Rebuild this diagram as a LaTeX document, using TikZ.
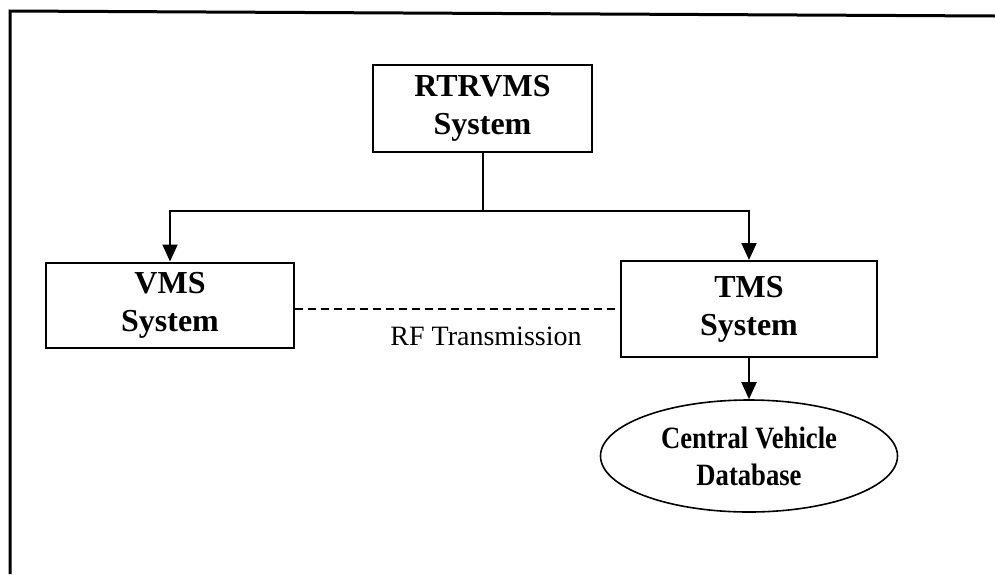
\documentclass[tikz,border=0pt]{standalone}
\usepackage{fontspec}
\setmainfont{Liberation Serif}
\usetikzlibrary{arrows.meta,shapes.geometric}
\begin{document}
\begin{tikzpicture}[x=1pt,y=-1pt,
  box/.style={draw,line width=2pt,inner sep=0pt,align=center,
    font=\bfseries\fontsize{32}{38}\selectfont},
  db/.style={draw,ellipse,line width=1.6pt,inner sep=0pt,align=center,
    font=\bfseries\fontsize{31}{37}\selectfont},
  link/.style={line width=2pt,-{Triangle[length=17pt,width=15pt]}},
  rf/.style={line width=2pt,dash pattern=on 8pt off 5pt},
]
\useasboundingbox (0,0) rectangle (995,574);
% page frame (top and left edges only)
\draw[line width=3pt] (10,574) -- (10,11) -- (995,16);

% system blocks
\node[box,minimum width=219pt,minimum height=87pt] (rtr) at (482.5,108) {RTRVMS\\System};
\node[box,minimum width=248pt,minimum height=85pt] (vms) at (170,305) {VMS\\System};
\node[box,minimum width=256pt,minimum height=96pt] (tms) at (749,309) {TMS\\System};
\node[db,minimum width=297pt,minimum height=112pt] (cvd) at (749,456)
  {\scalebox{0.86}[1]{Central Vehicle}\\\scalebox{0.86}[1]{Database}};

% branching connectors
\coordinate (split) at (rtr.south |- 0,211);
\draw[line width=2pt] (rtr.south) -- (split);
\draw[link] (split) -| (vms.north);
\draw[link] (split) -| (tms.north);
\draw[link] (tms.south) -- (cvd.north);

% radio link
\draw[rf] (vms.east |- 0,309) -- (tms.west |- 0,309);
\node[font=\fontsize{28}{32}\selectfont] (rflabel) at (486,336) {RF Transmission};
\end{tikzpicture}
\end{document}
